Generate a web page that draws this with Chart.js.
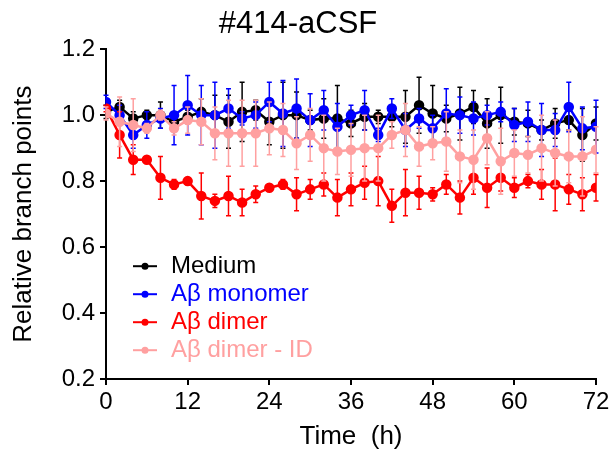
<!DOCTYPE html>
<html>
<head>
<meta charset="utf-8">
<script src="https://cdn.jsdelivr.net/npm/chart.js@4"></script>
<style>
  html, body { margin: 0; padding: 0; background: #fff; }
</style>
</head>
<body>
<canvas id="myChart" width="616" height="453"></canvas>
<script>
const times = [0, 2, 4, 6, 8, 10, 12, 14, 16, 18, 20, 22, 24, 26, 28, 30, 32, 34, 36,
               38, 40, 42, 44, 46, 48, 50, 52, 54, 56, 58, 60, 62, 64, 66, 68, 70, 72];

const medium = [1.01, 1.025, 0.99, 1.0, 1.0, 0.98, 0.995, 1.01, 1.0, 0.98, 1.01, 1.015, 0.98,
                1.0, 1.0, 0.985, 0.99, 0.99, 0.975, 0.995, 0.995, 0.995, 0.995,
                1.03, 1.005, 0.99, 1.005, 1.025, 0.975, 1.0, 0.98, 0.975, 0.955, 0.975, 0.985, 0.94, 0.975];
const mediumErr = [0.02, 0.02, 0.02, 0.015, 0.04, 0.02, 0.02, 0.04, 0.06, 0.08, 0.09, 0.03, 0.07,
                   0.1, 0.07, 0.03, 0.06, 0.1, 0.04, 0.04, 0.02, 0.03, 0.08,
                   0.085, 0.085, 0.04, 0.08, 0.05, 0.075, 0.085, 0.04, 0.04, 0.03, 0.045, 0.03, 0.08, 0.05];

const monomer = [1.04, 1.0, 0.94, 0.97, 0.99, 1.0, 1.03, 1.0, 1.0, 1.02, 0.99, 1.0, 1.04,
                 1.005, 1.02, 0.985, 1.015, 0.965, 1.0, 1.015, 0.94, 1.02, 0.955,
                 0.99, 0.96, 1.005, 1.0, 0.99, 1.0, 1.01, 0.97, 0.98, 0.955, 0.955, 1.025, 0.96, 0.965];
const monomerErr = [0.02, 0.03, 0.04, 0.04, 0.03, 0.09, 0.09, 0.09, 0.1, 0.06, 0.02, 0.04, 0.06,
                    0.1, 0.09, 0.08, 0.06, 0.07, 0.03, 0.06, 0.02, 0.03, 0.05,
                    0.03, 0.04, 0.075, 0.055, 0.05, 0.03, 0.03, 0.05, 0.06, 0.08, 0.05, 0.075, 0.065, 0.08];

const dimer = [1.02, 0.94, 0.865, 0.865, 0.81, 0.79, 0.80, 0.755, 0.74, 0.755, 0.735, 0.76, 0.78,
               0.79, 0.76, 0.775, 0.79, 0.75, 0.775, 0.795, 0.80, 0.725, 0.765,
               0.765, 0.76, 0.79, 0.75, 0.81, 0.78, 0.81, 0.78, 0.80, 0.79, 0.79, 0.775, 0.76, 0.78];
const dimerErr = [0.01, 0.07, 0.045, 0.01, 0.065, 0.015, 0.01, 0.07, 0.02, 0.06, 0.04, 0.025, 0.01,
                  0.015, 0.05, 0.03, 0.035, 0.055, 0.05, 0.05, 0.075, 0.05, 0.07,
                  0.05, 0.02, 0.03, 0.05, 0.05, 0.06, 0.04, 0.03, 0.02, 0.045, 0.08, 0.045, 0.05, 0.04];

const dimerID = [1.005, 0.98, 0.97, 0.96, 1.0, 0.96, 0.985, 0.98, 0.945, 0.945, 0.945, 0.945, 0.96,
                 0.955, 0.915, 0.94, 0.90, 0.89, 0.895, 0.90, 0.90, 0.94, 0.955,
                 0.905, 0.915, 0.92, 0.875, 0.865, 0.93, 0.86, 0.885, 0.88, 0.90, 0.885, 0.875, 0.875, 0.895];
const dimerIDErr = [0.02, 0.075, 0.08, 0.015, 0.015, 0.02, 0.04, 0.07, 0.08, 0.1, 0.1, 0.1, 0.08,
                    0.08, 0.08, 0.08, 0.1, 0.07, 0.08, 0.1, 0.1, 0.04, 0.08,
                    0.06, 0.05, 0.09, 0.08, 0.09, 0.08, 0.1, 0.07, 0.055, 0.1, 0.1, 0.08, 0.12, 0.07];

const xTicks = [0, 12, 24, 36, 48, 60, 72];
const yTicks = [0.2, 0.4, 0.6, 0.8, 1.0, 1.2];

const FONT = "'Liberation Sans', Arial, sans-serif";

function series(label, values, errs, color, order) {
    return {
        label: label,
        data: times.map((t, i) => ({ x: t, y: values[i] })),
        errorBars: errs,
        borderColor: color,
        backgroundColor: color,
        pointBackgroundColor: color,
        pointBorderColor: color,
        borderWidth: 2.5,
        pointRadius: 4,
        pointHoverRadius: 4,
        tension: 0,
        order: order
    };
}

// error bars, drawn under each series' own line
const errorBarPlugin = {
    id: 'errorBars',
    beforeDatasetDraw(chart, args) {
        const ds = chart.data.datasets[args.index];
        if (!ds.errorBars) return;
        const y = chart.scales.y;
        const ctx = chart.ctx;
        ctx.save();
        ctx.strokeStyle = ds.borderColor;
        ctx.lineWidth = 1.5;
        args.meta.data.forEach((pt, i) => {
            const v = ds.data[i].y;
            const e = ds.errorBars[i];
            const top = y.getPixelForValue(v + e);
            const bot = y.getPixelForValue(v - e);
            ctx.beginPath();
            ctx.moveTo(pt.x, top);
            ctx.lineTo(pt.x, bot);
            ctx.moveTo(pt.x - 2.5, top);
            ctx.lineTo(pt.x + 2.5, top);
            ctx.moveTo(pt.x - 2.5, bot);
            ctx.lineTo(pt.x + 2.5, bot);
            ctx.stroke();
        });
        ctx.restore();
    }
};

// legend inside the plot, bottom left
const innerLegend = {
    id: 'innerLegend',
    afterDraw(chart) {
        const ctx = chart.ctx;
        const area = chart.chartArea;
        const x0 = area.left + 27;
        const y0 = area.top + 217;
        ctx.save();
        ctx.font = '24px ' + FONT;
        ctx.textBaseline = 'middle';
        ctx.textAlign = 'left';
        chart.data.datasets.forEach((ds, i) => {
            const yy = y0 + i * 28;
            ctx.strokeStyle = ds.borderColor;
            ctx.fillStyle = ds.borderColor;
            ctx.lineWidth = 2;
            ctx.beginPath();
            ctx.moveTo(x0, yy);
            ctx.lineTo(x0 + 24, yy);
            ctx.stroke();
            ctx.beginPath();
            ctx.arc(x0 + 12, yy, 3.5, 0, Math.PI * 2);
            ctx.fill();
            ctx.fillText(ds.label, x0 + 38, yy);
        });
        ctx.restore();
    }
};

const ctx = document.getElementById('myChart').getContext('2d');

new Chart(ctx, {
    type: 'line',
    data: {
        datasets: [
            series('Medium', medium, mediumErr, '#000000', 4),
            series('Aβ monomer', monomer, monomerErr, '#0000ff', 3),
            series('Aβ dimer', dimer, dimerErr, '#ff0000', 2),
            series('Aβ dimer - ID', dimerID, dimerIDErr, '#ffa0a0', 1)
        ]
    },
    options: {
        responsive: false,
        animation: false,
        devicePixelRatio: 1,
        layout: { padding: { left: 0, right: 20, top: 0, bottom: 0 } },
        plugins: {
            legend: { display: false },
            tooltip: { enabled: false },
            title: {
                display: true,
                text: '#414-aCSF',
                color: '#000',
                font: { family: FONT, size: 31, weight: 'normal' },
                padding: { top: 6, bottom: 6 }
            }
        },
        scales: {
            x: {
                type: 'linear',
                min: 0,
                max: 72,
                afterFit: s => { s.height = 74; },
                afterBuildTicks: s => { s.ticks = xTicks.map(v => ({ value: v })); },
                ticks: {
                    color: '#000',
                    font: { family: FONT, size: 24 },
                    padding: 3,
                    maxRotation: 0
                },
                grid: { drawOnChartArea: false, drawTicks: true, tickLength: 6, color: '#000', lineWidth: 2 },
                border: { color: '#000', width: 2 },
                title: {
                    display: true,
                    text: 'Time  (h)',
                    color: '#000',
                    font: { family: FONT, size: 26 },
                    padding: { top: 0, bottom: 1 }
                }
            },
            y: {
                min: 0.2,
                max: 1.2,
                afterFit: s => { s.width = 106; },
                afterBuildTicks: s => { s.ticks = yTicks.map(v => ({ value: v })); },
                ticks: {
                    color: '#000',
                    font: { family: FONT, size: 24 },
                    padding: 5,
                    callback: v => v.toFixed(1)
                },
                grid: { drawOnChartArea: false, drawTicks: true, tickLength: 6, color: '#000', lineWidth: 2 },
                border: { color: '#000', width: 2 },
                title: {
                    display: true,
                    text: 'Relative branch points',
                    color: '#000',
                    font: { family: FONT, size: 26 },
                    padding: { top: 8, bottom: 0 }
                }
            }
        }
    },
    plugins: [errorBarPlugin, innerLegend]
});
</script>
</body>
</html>
